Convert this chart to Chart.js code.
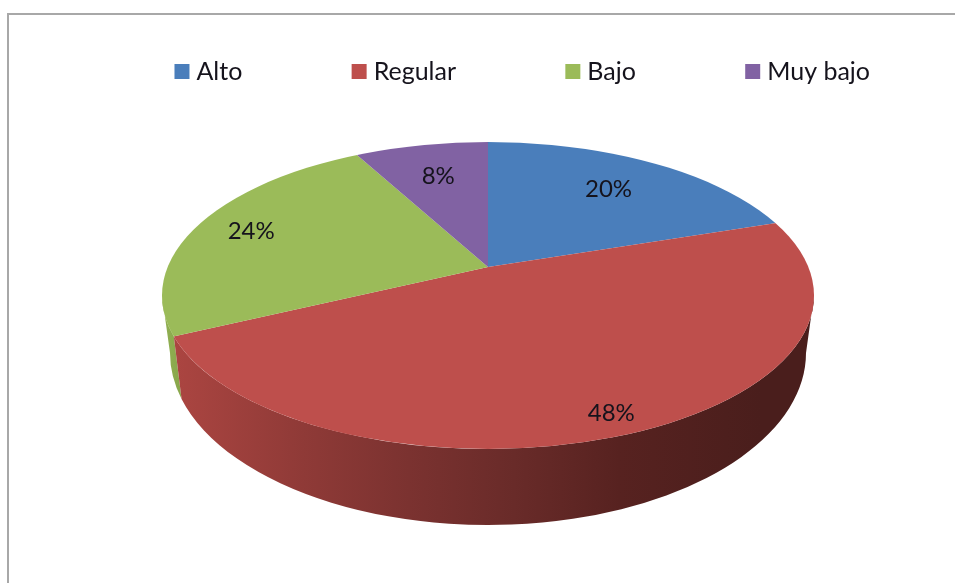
<!DOCTYPE html>
<html>
<head>
<meta charset="utf-8">
<style>
html,body{margin:0;padding:0;background:#fff;width:955px;height:583px;overflow:hidden}
#frame{position:absolute;left:7px;top:13px;width:948px;height:570px;border-left:2px solid #a8a8a8;border-top:2px solid #a8a8a8;box-sizing:border-box}
#wrap{position:absolute;left:0;top:0;width:955px;height:583px}
</style>
</head>
<body>
<div id="frame"></div>
<div id="wrap"><canvas id="c" width="955" height="583"></canvas></div>
<script src="https://cdn.jsdelivr.net/npm/chart.js@4/dist/chart.umd.js"></script>
<script>
const categories = ['Alto', 'Regular', 'Bajo', 'Muy bajo'];
const values = [20, 48, 24, 8];
const sliceColors = ['#4a7ebb', '#be4f4c', '#9bbb59', '#8162a3'];
const labelDistances = [205, 335, 249, 200];

// Scene geometry of the tilted pie
const apex = {x: 488, y: 267};
const tilt = 0.47;
const top_ = {x: 488, y: 295.5, rx: 326, ry: 153.5};
const low = {x: 488, y: 353, rx: 318, ry: 172};

// Where a slice edge (library angle) meets the rim of the top face
function rimParam(angle) {
  const dx = Math.cos(angle), dy = Math.sin(angle) * tilt;
  const ox = (apex.x - top_.x) / top_.rx, oy = (apex.y - top_.y) / top_.ry;
  const ax = dx / top_.rx, ay = dy / top_.ry;
  const A = ax * ax + ay * ay, B = 2 * (ox * ax + oy * ay), C = ox * ox + oy * oy - 1;
  const t = (-B + Math.sqrt(B * B - 4 * A * C)) / (2 * A);
  return Math.atan2((apex.y + dy * t - top_.y) / top_.ry, (apex.x + dx * t - top_.x) / top_.rx);
}

function wall(ctx, from, to, fill) {
  ctx.beginPath();
  ctx.ellipse(top_.x, top_.y, top_.rx, top_.ry, 0, from, to, false);
  ctx.ellipse(low.x, low.y, low.rx, low.ry, 0, to, from, true);
  ctx.closePath();
  ctx.fillStyle = fill;
  ctx.fill();
}

const pie3d = {
  id: 'pie3d',
  afterLayout(chart) {
    const lg = chart.legend;
    lg.left += 37; lg.right += 37;
    lg.top = 59 - lg.options.labels.padding;
  },
  beforeDatasetsDraw(chart) {
    const ctx = chart.ctx;
    const arcs = chart.getDatasetMeta(0).data;
    const redEnd = rimParam(arcs[1].endAngle);
    ctx.save();
    // green side wall
    const g = ctx.createLinearGradient(160, 0, 185, 0);
    g.addColorStop(0, '#93b253');
    g.addColorStop(1, '#86a44a');
    wall(ctx, redEnd, Math.PI, g);
    // red side wall
    const r = ctx.createLinearGradient(175, 0, 760, 0);
    r.addColorStop(0, '#ab4541');
    r.addColorStop(0.22, '#8f3a37');
    r.addColorStop(0.40, '#7b3230');
    r.addColorStop(0.58, '#692b29');
    r.addColorStop(0.76, '#572220');
    r.addColorStop(1, '#4a1e1c');
    wall(ctx, 0, redEnd, r);
    // top face: clip to rim, tilt library arcs about the apex
    ctx.beginPath();
    ctx.ellipse(top_.x, top_.y, top_.rx, top_.ry, 0, 0, Math.PI * 2);
    ctx.clip();
    ctx.translate(apex.x - arcs[0].x, apex.y);
    ctx.scale(1, tilt);
    ctx.translate(0, -arcs[0].y);
  },
  afterDatasetsDraw(chart) {
    const ctx = chart.ctx;
    ctx.restore();
    const arcs = chart.getDatasetMeta(0).data;
    ctx.save();
    ctx.font = '24px Lato';
    ctx.fillStyle = '#15131c';
    ctx.textAlign = 'center';
    ctx.textBaseline = 'middle';
    arcs.forEach((a, i) => {
      const mid = (a.startAngle + a.endAngle) / 2;
      const d = labelDistances[i];
      ctx.fillText(values[i] + '%', apex.x + Math.cos(mid) * d, apex.y + Math.sin(mid) * d * tilt);
    });
    ctx.restore();
  }
};

new Chart(document.getElementById('c'), {
  type: 'pie',
  data: {
    labels: categories,
    datasets: [{data: values, backgroundColor: sliceColors, borderWidth: 0, clip: false}]
  },
  plugins: [pie3d],
  options: {
    responsive: false,
    animation: false,
    radius: 395,
    layout: {padding: {left: 21, right: 0, top: 0, bottom: 0}},
    plugins: {
      tooltip: {enabled: false},
      legend: {
        position: 'top',
        labels: {
          usePointStyle: true,
          pointStyle: 'rect',
          boxWidth: 4,
          boxHeight: 15,
          padding: 114.8,
          color: '#15131c',
          font: {family: 'Lato', size: 25}
        }
      }
    }
  }
});
</script>
</body>
</html>
